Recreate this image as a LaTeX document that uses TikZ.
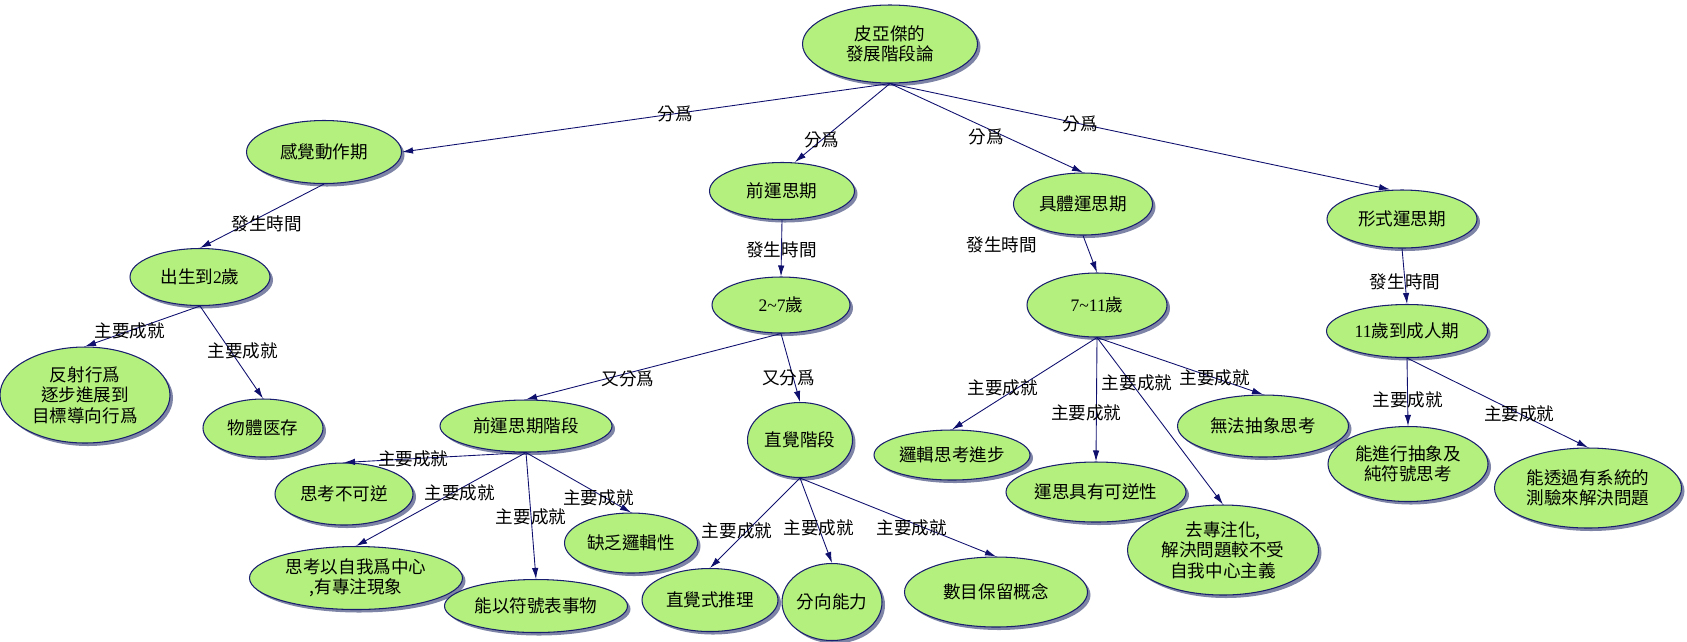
\documentclass[tikz,border=0pt]{standalone}
\usepackage{fontspec}
\setmainfont{Noto Sans CJK TC}
\newfontfamily\numfont{Liberation Serif}
\usetikzlibrary{arrows.meta,shapes.geometric,shadows}
\definecolor{conceptfill}{RGB}{180,240,125}
\definecolor{conceptedge}{RGB}{25,30,110}
\definecolor{shadowgrey}{RGB}{125,132,165}
\definecolor{linknavy}{RGB}{15,15,110}
\tikzset{
  fig/.style={font=\fontsize{10}{11.6}\selectfont},
  concept/.style={ellipse,draw=conceptedge,line width=0.6pt,fill=conceptfill,
                  inner sep=0pt,align=center,
                  drop shadow={shadow xshift=0.6mm,shadow yshift=-0.6mm,
                               fill=shadowgrey,opacity=1}},
  esize/.style 2 args={minimum width=#1*0.2mm,minimum height=#2*0.2mm},
  ln/.style={-{Latex[length=2.2mm,width=1.3mm]},line width=0.5pt,linknavy},
  lbl/.style={font=\fontsize{10}{11.6}\selectfont,inner sep=1pt,text=black},
}

\begin{document}
\begin{tikzpicture}[fig,x=0.2mm,y=-0.2mm]
\useasboundingbox (0,0) rectangle (1687,641);

% top of the map
\node[concept,esize={175}{78}] (root) at (890,44) {皮亞傑的\\發展階段論};

% the four periods
\node[concept,esize={155}{63}] (kj) at (324,152) {感覺動作期};
\node[concept,esize={145}{57}] (qy) at (782,191) {前運思期};
\node[concept,esize={139}{62}] (jt) at (1083,204) {具體運思期};
\node[concept,esize={150}{58}] (xs) at (1402,219) {形式運思期};

% ages
\node[concept,esize={140}{57}] (cs) at (200,277) {出生到{\numfont 2}歲};
\node[concept,esize={138}{56}] (age27) at (781,305) {{\numfont 2\textasciitilde 7}歲};
\node[concept,esize={140}{64}] (age711) at (1097,305) {{\numfont 7\textasciitilde 11}歲};
\node[concept,esize={161}{53}] (age11) at (1407,331) {{\numfont 11}歲到成人期};

% sensorimotor
\node[concept,esize={170}{96}] (fs) at (85,395) {反射行爲\\逐步進展到\\目標導向行爲};
\node[concept,esize={120}{58}] (wt) at (263,428) {物體匧存};

% preoperational
\node[concept,esize={172}{52}] (qyjd) at (526,426) {前運思期階段};
\node[concept,esize={105}{75}] (zj) at (800,440) {直覺階段};
\node[concept,esize={138}{62}] (bkn) at (344,494) {思考不可逆};
\node[concept,esize={213}{63}] (zw) at (356,578) {思考以自我爲中心\\,有專注現象};
\node[concept,esize={183}{53}] (fh) at (536,606) {能以符號表事物};
\node[concept,esize={133}{60}] (qf) at (631,543) {缺乏邏輯性};
\node[concept,esize={136}{63}] (zjs) at (710,600) {直覺式推理};
\node[concept,esize={100}{77}] (fx) at (832,602) {分向能力};
\node[concept,esize={183}{70}] (sm) at (996,592) {數目保留概念};

% concrete operational
\node[concept,esize={156}{50}] (lj) at (952,455) {邏輯思考進步};
\node[concept,esize={180}{60}] (kn) at (1096,492) {運思具有可逆性};
\node[concept,esize={191}{90}] (qz) at (1223,550) {去專注化,\\解決問題較不受\\自我中心主義};
\node[concept,esize={171}{62}] (wf) at (1263,426) {無法抽象思考};

% formal operational
\node[concept,esize={160}{75}] (cx) at (1408,464) {能進行抽象及\\純符號思考};
\node[concept,esize={187}{80}] (tg) at (1588,488) {能透過有系統的\\測驗來解決問題};

% links
\draw[ln] (root.south) -- (kj.east) node[lbl,pos=0.44]{分爲};
\draw[ln] (root.south) -- ([xshift=2.6mm]qy.north) node[lbl,pos=0.72]{分爲};
\draw[ln] (root.south) -- (jt.north) node[lbl,pos=0.5,yshift=-1.8mm]{分爲};
\draw[ln] (root.south) -- ([xshift=-2.4mm]xs.north) node[lbl,pos=0.38]{分爲};

\draw[ln] (kj.south) -- (cs.north) node[lbl,pos=0.46,yshift=-2mm]{發生時間};
\draw[ln] (cs.south) -- (fs.north) node[lbl,pos=0.61]{主要成就};
\draw[ln] (cs.south) -- (wt.north) node[lbl,pos=0.49,xshift=2.4mm]{主要成就};

\draw[ln] (qy.south) -- (age27.north) node[lbl,pos=0.53]{發生時間};
\draw[ln] (age27.south) -- (qyjd.north) node[lbl,pos=0.6,yshift=-1.2mm]{又分爲};
\draw[ln] (age27.south) -- (zj.north) node[lbl,pos=0.65,xshift=-1mm]{又分爲};
\draw[ln] (qyjd.south) -- (bkn.north) node[lbl,pos=0.62]{主要成就};
\draw[ln] (qyjd.south) -- (zw.north) node[lbl,pos=0.39,yshift=-0.8mm]{主要成就};
\draw[ln] (qyjd.south) -- (fh.north) node[lbl,pos=0.51]{主要成就};
\draw[ln] (qyjd.south) -- (qf.north) node[lbl,pos=0.69,yshift=-0.8mm]{主要成就};
\draw[ln] (zj.south) -- (zjs.north) node[lbl,pos=0.7,yshift=2mm]{主要成就};
\draw[ln] (zj.south) -- (fx.north) node[lbl,pos=0.59]{主要成就};
\draw[ln] (zj.south) -- (sm.north) node[lbl,pos=0.57,yshift=-1mm]{主要成就};

\draw[ln] (jt.south) -- (age711.north) node[lbl,pos=0.26,xshift=-17mm]{發生時間};
\draw[ln] (age711.south) -- (lj.north) node[lbl,pos=0.65,yshift=1.8mm]{主要成就};
\draw[ln] (age711.south) -- (kn.north) node[lbl,pos=0.61,xshift=-2mm]{主要成就};
\draw[ln] (age711.south) -- (qz.north) node[lbl,pos=0.27,xshift=1.2mm]{主要成就};
\draw[ln] (age711.south) -- (wf.north) node[lbl,pos=0.71]{主要成就};

\draw[ln] (xs.south) -- (age11.north) node[lbl,pos=0.6]{發生時間};
\draw[ln] (age11.south) -- (cx.north) node[lbl,pos=0.62]{主要成就};
\draw[ln] (age11.south) -- (tg.north) node[lbl,pos=0.62]{主要成就};

\end{tikzpicture}
\end{document}
